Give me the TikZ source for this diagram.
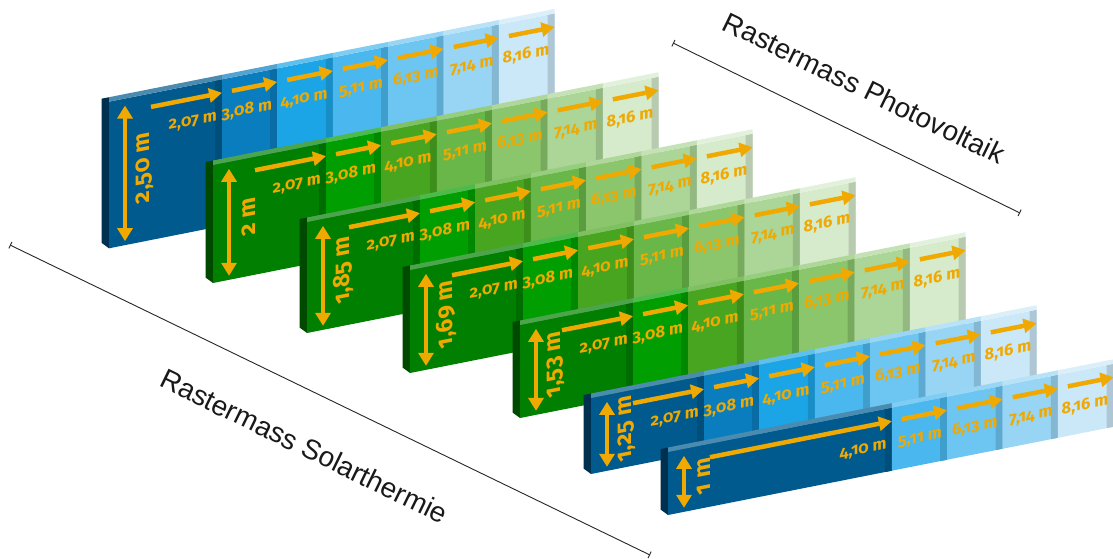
\documentclass[tikz,border=0pt]{standalone}
\usepackage{fontspec}
\setmainfont{Liberation Sans}
\newfontfamily\labfont[Numbers=OldStyle]{Fira Sans}
\usetikzlibrary{arrows.meta}
\definecolor{B1}{HTML}{005A8E}
\definecolor{B2}{HTML}{0A7DBF}
\definecolor{B3}{HTML}{1CA5E6}
\definecolor{B4}{HTML}{4AB8EE}
\definecolor{B5}{HTML}{6DC5F1}
\definecolor{B6}{HTML}{98D5F4}
\definecolor{B7}{HTML}{CBE8F8}
\definecolor{G1}{HTML}{007F00}
\definecolor{G2}{HTML}{009E00}
\definecolor{G3}{HTML}{48A520}
\definecolor{G4}{HTML}{69B748}
\definecolor{G5}{HTML}{8BC66D}
\definecolor{G6}{HTML}{ABD697}
\definecolor{G7}{HTML}{D6EBCC}
\definecolor{BS}{HTML}{00304F}
\definecolor{GS}{HTML}{004A00}
\definecolor{gold}{HTML}{F0A900}
\tikzset{
  gold arrow/.style={draw=gold, line width=4.5pt, -{Triangle[length=13pt,width=14pt]}},
  both arrow/.style={draw=gold, line width=4.5pt, {Triangle[length=13pt,width=15pt]}-{Triangle[length=13pt,width=15pt]}},
  seglabel/.style={text=gold, font=\labfont\bfseries\fontsize{16.5}{16.5}\selectfont, inner sep=0pt, anchor=base east, transform shape},
  vlabel/.style={text=gold, font=\labfont\bfseries\fontsize{23.5}{23.5}\selectfont, inner sep=0pt, rotate=90, transform shape},
  dimline/.style={draw=black!85, line width=0.9pt, {Bar[width=7pt]}-{Bar[width=7pt]}},
  bigtext/.style={font=\fontsize{28}{28}\selectfont, text=black!90, inner sep=0pt, anchor=base, rotate=-26},
}
\newcommand\wallrow[7]{%
\begin{scope}[shift={(#2,-#3)}, yslant=0.198]
  \fill[#5] (0,0) -- (0,#4+4.5) -- (-7.5,#4+4.5) -- (-7.5,7) -- cycle;
  \foreach \sa/\sb/\col/\txt [count=\k] in {#7} {
    \pgfmathsetmacro\xa{\sa*54.6}
    \pgfmathsetmacro\xb{\sb*54.6}
    \fill[\col] (\xa,0) rectangle (\xb,#4);
    \fill[\col!86!black] (\xb-7,0) rectangle (\xb,#4);
    \fill[\col!70!white] (\xa,#4) -- (\xb,#4) -- (\xb,#4+4.5) -- (\xa,#4+4.5) -- cycle;
    \ifnum\k=1 \pgfmathsetmacro\xs{42}\else\pgfmathsetmacro\xs{\xa+10}\fi
    \draw[gold arrow] (\xs,#4-13.5) -- (\xb,#4-13.5);
    \node[seglabel] (#1-\k) at (\xb-5,#4-40) {\txt};
  }
  \draw[both arrow] (16,4) -- (16,#4-7);
  \node[vlabel] (#1-v) at (36,#4/2) {#6};
\end{scope}}
\begin{document}
\begin{tikzpicture}[x=1pt,y=1pt]
\useasboundingbox[fill=white] (0,0) rectangle (1113,-558);
\wallrow{r1}{109}{248.3}{146.6}{BS}{2,50 m}{0/2.07/B1/{2,07 m}, 2.07/3.08/B2/{3,08 m}, 3.08/4.10/B3/{4,10 m}, 4.10/5.11/B4/{5,11 m}, 5.11/6.13/B5/{6,13 m}, 6.13/7.14/B6/{7,14 m}, 7.14/8.16/B7/{8,16 m}}
\wallrow{r2}{213}{283}{118}{GS}{2 m}{0/2.07/G1/{2,07 m}, 2.07/3.08/G2/{3,08 m}, 3.08/4.10/G3/{4,10 m}, 4.10/5.11/G4/{5,11 m}, 5.11/6.13/G5/{6,13 m}, 6.13/7.14/G6/{7,14 m}, 7.14/8.16/G7/{8,16 m}}
\wallrow{r3}{307}{333}{111}{GS}{1,85 m}{0/2.07/G1/{2,07 m}, 2.07/3.08/G2/{3,08 m}, 3.08/4.10/G3/{4,10 m}, 4.10/5.11/G4/{5,11 m}, 5.11/6.13/G5/{6,13 m}, 6.13/7.14/G6/{7,14 m}, 7.14/8.16/G7/{8,16 m}}
\wallrow{r4}{410}{373}{103}{GS}{1,69 m}{0/2.07/G1/{2,07 m}, 2.07/3.08/G2/{3,08 m}, 3.08/4.10/G3/{4,10 m}, 4.10/5.11/G4/{5,11 m}, 5.11/6.13/G5/{6,13 m}, 6.13/7.14/G6/{7,14 m}, 7.14/8.16/G7/{8,16 m}}
\wallrow{r5}{520}{418}{93}{GS}{1,53 m}{0/2.07/G1/{2,07 m}, 2.07/3.08/G2/{3,08 m}, 3.08/4.10/G3/{4,10 m}, 4.10/5.11/G4/{5,11 m}, 5.11/6.13/G5/{6,13 m}, 6.13/7.14/G6/{7,14 m}, 7.14/8.16/G7/{8,16 m}}
\wallrow{r6}{591}{474}{76}{BS}{1,25 m}{0/2.07/B1/{2,07 m}, 2.07/3.08/B2/{3,08 m}, 3.08/4.10/B3/{4,10 m}, 4.10/5.11/B4/{5,11 m}, 5.11/6.13/B5/{6,13 m}, 6.13/7.14/B6/{7,14 m}, 7.14/8.16/B7/{8,16 m}}
\wallrow{r7}{668}{515}{63}{BS}{1 m}{0/4.10/B1/{4,10 m}, 4.10/5.11/B4/{5,11 m}, 5.11/6.13/B5/{6,13 m}, 6.13/7.14/B6/{7,14 m}, 7.14/8.16/B7/{8,16 m}}
\coordinate (pvA) at (673,-43);
\coordinate (pvB) at (1020,-213);
\draw[dimline] (pvA) -- (pvB);
\node[bigtext] (pvT) at (860,-97) {Rastermass Photovoltaik};
\coordinate (stA) at (10,-245);
\coordinate (stB) at (650,-555);
\draw[dimline] (stA) -- (stB);
\node[bigtext] (stT) at (300,-455) {Rastermass Solarthermie};
\end{tikzpicture}
\end{document}
